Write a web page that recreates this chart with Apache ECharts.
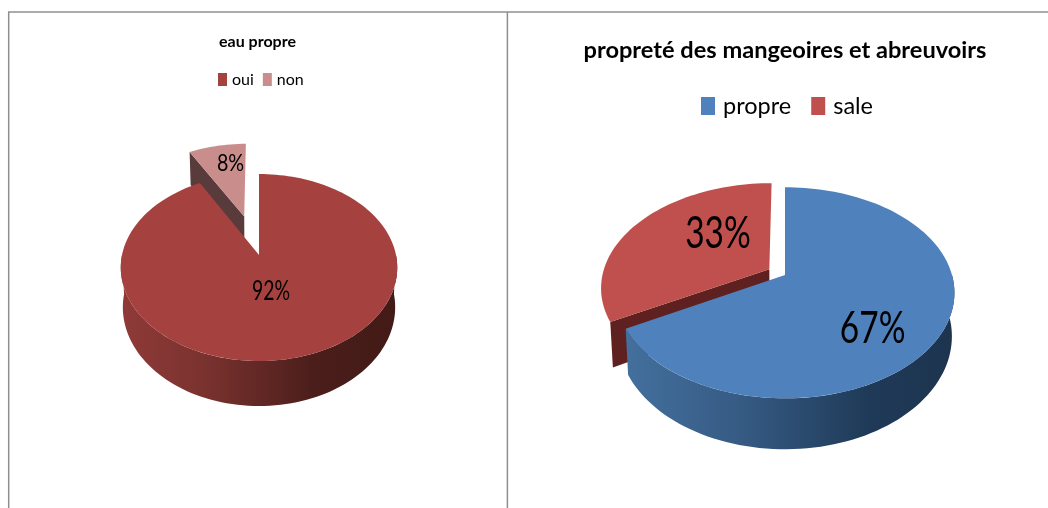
<!DOCTYPE html>
<html><head><meta charset="utf-8">
<style>html,body{margin:0;padding:0;background:#fff}#c{width:1048px;height:508px}</style>
<script src="https://cdn.jsdelivr.net/npm/echarts@6/dist/echarts.min.js"></script>
</head><body><div id="c"></div>
<script>
const waterTitle = 'eau propre';
const waterCategories = ['oui', 'non'];
const waterValues = [92, 8];
const feederTitle = 'propreté des mangeoires et abreuvoirs';
const feederCategories = ['propre', 'sale'];
const feederValues = [67, 33];

const FONT = 'Lato,"Liberation Sans",sans-serif';
const geomL = {cx:259, cy:255, R:137, a:91.8, k:0.134, D:39, s:0.985, fs:27, sx:0.72};
const geomR = {cx:785, cy:275, R:167, a:102.5, k:0.169, D:42.3, s:0.985, fs:44, sx:0.76};
const rad = d => d * Math.PI / 180;

function proj(g, u, v, low) {
  const w = 1 - g.k * v;
  return [g.cx + g.R * u / w * (low ? g.s : 1), g.cy + (g.a * v + (low ? g.D : 0)) / w];
}
function disc(off, deg, r) {
  return [off[0] + r * Math.sin(rad(deg)), off[1] - r * Math.cos(rad(deg))];
}
function arc(g, off, a0, a1, low) {
  const pts = [], n = Math.max(8, Math.ceil(Math.abs(a1 - a0) / 2));
  for (let i = 0; i <= n; i++) {
    const d = disc(off, a0 + (a1 - a0) * i / n, 1);
    pts.push(proj(g, d[0], d[1], low));
  }
  return pts;
}
function makeSlice(g, values, idx, opt) {
  const total = values.reduce((s, x) => s + x, 0);
  const before = values.slice(0, idx).reduce((s, x) => s + x, 0);
  return function (params, api) {
    const val = api.value(0);
    const a0 = before / total * 360, a1 = (before + val) / total * 360, mid = (a0 + a1) / 2;
    const off = opt.explode
      ? [opt.explode * Math.sin(rad(mid)), -opt.explode * Math.cos(rad(mid))] : [0, 0];
    const kids = [];
    const apexT = proj(g, off[0], off[1], false), apexB = proj(g, off[0], off[1], true);
    if (opt.wall) {
      const e = disc(off, a0, 1);
      kids.push({type:'polygon', shape:{points:[apexT, proj(g, e[0], e[1], false), proj(g, e[0], e[1], true), apexB]},
        style:{fill:opt.wall}});
    }
    if (opt.rim) {
      const r0 = Math.max(a0, 90), r1 = Math.min(a1, 270);
      const top = arc(g, off, r0, r1, false), low = arc(g, off, r0, r1, true).reverse();
      kids.push({type:'polygon', shape:{points:top.concat(low)},
        style:{fill:new echarts.graphic.LinearGradient(g.cx - g.R, 0, g.cx + g.R, 0, opt.rim, true)}});
    }
    kids.push({type:'polygon', shape:{points:[apexT].concat(arc(g, off, a0, a1, false))}, style:{fill:opt.color}});
    const lm = a0 + (a1 - a0) * opt.lt, ld = disc(off, lm, opt.lr), lp = proj(g, ld[0], ld[1], false);
    kids.push({type:'text', x:lp[0], y:lp[1], scaleX:opt.sx || g.sx, z2:10,
      style:{text:Math.round(val / total * 100) + '%', fill:'#000', fontFamily:FONT, fontSize:opt.fs || g.fs,
             align:'center', verticalAlign:'middle'}});
    return {type:'group', children:kids};
  };
}
function sliceSeries(name, g, values, idx, opt, z) {
  return {type:'custom', name, coordinateSystem:'none', z, silent:true, animation:false,
    itemStyle:{color:opt.color}, data:[[values[idx]]], renderItem:makeSlice(g, values, idx, opt)};
}
const blueRim = [{offset:0,color:'#44719f'},{offset:.35,color:'#375c85'},{offset:.75,color:'#1f3a58'},{offset:1,color:'#1d344f'}];
const redRim = [{offset:0,color:'#8f3a38'},{offset:.3,color:'#7a322f'},{offset:.7,color:'#4b1e1b'},{offset:1,color:'#421a16'}];

const chart = echarts.init(document.getElementById('c'), null, {renderer:'canvas'});
const frame = {stroke:'#8f8f8f', lineWidth:1.5};
chart.setOption({
  animation:false, backgroundColor:'#fff',
  title:[
    {text:waterTitle, left:252.5, top:29, textAlign:'center',
     textStyle:{fontFamily:FONT, fontWeight:'bold', fontSize:16, color:'#000'}},
    {text:feederTitle, left:780, top:33, textAlign:'center',
     textStyle:{fontFamily:FONT, fontWeight:'bold', fontSize:23.6, color:'#000'}}
  ],
  legend:[
    {data:waterCategories, left:213, top:66.5, itemWidth:9, itemHeight:13, itemGap:9, selectedMode:false, icon:'rect',
     textStyle:{fontFamily:FONT, fontSize:16, color:'#000'}},
    {data:feederCategories, left:696, top:89, itemWidth:14, itemHeight:18, itemGap:20, selectedMode:false, icon:'rect',
     textStyle:{fontFamily:FONT, fontSize:23.5, color:'#000', padding:[0,0,0,3]}}
  ],
  graphic:[
    {type:'line', shape:{x1:8,y1:12,x2:1048,y2:12}, style:frame},
    {type:'line', shape:{x1:8.7,y1:12,x2:8.7,y2:508}, style:frame},
    {type:'line', shape:{x1:507.4,y1:12,x2:507.4,y2:508}, style:frame}
  ],
  series:[
    sliceSeries(waterCategories[1], geomL, waterValues, 1,
      {color:'#c98d8c', wall:'#5a3b3b', explode:.46, lr:.72, lt:.65, fs:24, sx:.82}, 1),
    sliceSeries(waterCategories[0], geomL, waterValues, 0,
      {color:'#a5423f', rim:redRim, lr:.386, lt:.506}, 2),
    sliceSeries(feederCategories[1], geomR, feederValues, 1,
      {color:'#c0504d', wall:'#5f2120', explode:.11, lr:.506, lt:.65}, 1),
    sliceSeries(feederCategories[0], geomR, feederValues, 0,
      {color:'#4f81bd', rim:blueRim, lr:.68, lt:.559}, 2)
  ]
});
</script></body></html>
